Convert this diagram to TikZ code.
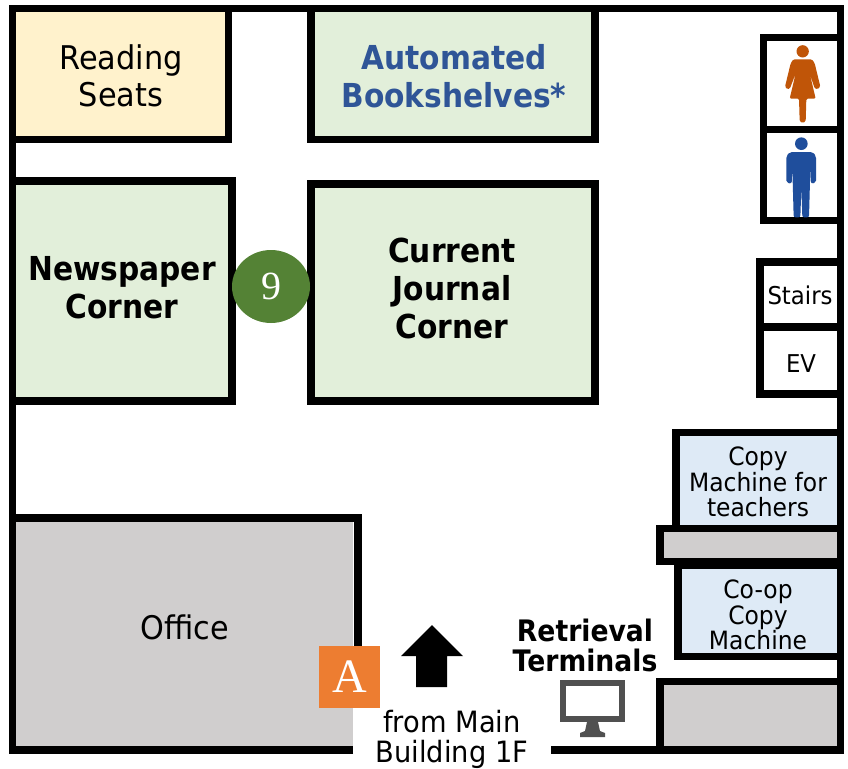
\documentclass[tikz,border=0pt]{standalone}
\usepackage{fontspec}
\usetikzlibrary{shapes.geometric}
\setmainfont[FakeStretch=0.93]{DejaVu Sans}
\newfontfamily\boldfam[FakeStretch=0.9]{DejaVu Sans Bold}
\newfontfamily\serfam{Liberation Serif}
\definecolor{wallc}{HTML}{000000}
\definecolor{yellowf}{HTML}{FFF2CC}
\definecolor{greenf}{HTML}{E2EFDA}
\definecolor{bluef}{HTML}{DEEAF6}
\definecolor{grayf}{HTML}{D0CECE}
\definecolor{autoc}{HTML}{2F5597}
\definecolor{pin}{HTML}{548235}
\definecolor{orangem}{HTML}{ED7D31}
\definecolor{womanc}{HTML}{C05508}
\definecolor{manc}{HTML}{1F4E9C}
\definecolor{monc}{HTML}{505050}
\tikzset{
  x=0.75pt,y=-0.75pt,
  wall/.style={draw=wallc,line width=5.4pt,line cap=butt,line join=miter},
  room/.style={wall,fill=#1},
  lab/.style={inner sep=0pt,align=center,text=black},
  lablarge/.style={lab,font=\fontsize{24.5}{27.75}\selectfont},
  labbold/.style={lab,font=\boldfam\fontsize{24.75}{28.5}\selectfont},
  labsmall/.style={lab,font=\fontsize{18.9}{19.2}\selectfont},
  labfrom/.style={lab,font=\fontsize{22}{22.5}\selectfont},
  labret/.style={lab,font=\boldfam\fontsize{22.2}{22.5}\selectfont},
}
\begin{document}
\begin{tikzpicture}
\useasboundingbox (0,0) rectangle (848,768);
% office fill and outer walls
\fill[grayf] (12,518) rectangle (353,748);
\draw[wall] (353,750) -- (12.5,750) -- (12.5,8.5) -- (840.5,8.5) -- (840.5,750) -- (551,750);
\draw[wall] (12.5,518) -- (358,518) -- (358,660);
% rooms
\draw[room=yellowf] (12.5,8.5) rectangle (228.5,139.5);
\draw[room=greenf] (311,8.5) rectangle (595,139.5);
\draw[room=greenf] (12.5,181) rectangle (232,401);
\draw[room=greenf] (311,184) rectangle (595,401);
\draw[room=white] (763.5,37.5) rectangle (840.5,129.5);
\draw[room=white] (763.5,129.5) rectangle (840.5,220.5);
\draw[room=white] (760,262) rectangle (840.5,327);
\draw[room=white] (760,327) rectangle (840.5,394);
\draw[room=bluef] (676,432.5) rectangle (840.5,528.5);
\draw[room=grayf] (660,528.5) rectangle (840.5,561.5);
\draw[room=bluef] (678,565) rectangle (840.5,656.5);
\draw[room=grayf] (660,681.5) rectangle (840.5,750);
% labels
\node[lablarge] (reading) at (121,75.5) {Reading\\Seats};
\node[labbold,text=autoc] (auto) at (454,76.5) {Automated\\Bookshelves*};
\node[labbold] (news) at (122,288) {Newspaper\\Corner};
\node[labbold] (journal) at (452,288) {Current\\Journal\\Corner};
\node[lab,font=\fontsize{18.4}{20}\selectfont] (stairs) at (800,295) {Stairs};
\node[lab,font=\fontsize{18.4}{20}\selectfont] (ev) at (801,364) {EV};
\node[labsmall] (copyt) at (758,482) {Copy\\Machine for\\teachers};
\node[labsmall] (coop) at (758,615) {Co-op\\Copy\\Machine};
\node[lab,font=\fontsize{24.4}{26}\selectfont] (office) at (185,627) {Office};
\node[labret] (retr) at (585,645.5) {Retrieval\\Terminals};
\node[labfrom] (from) at (452,739) {from Main\\Building 1F};
% markers
\node[ellipse,fill=pin,minimum width=58.5pt,minimum height=54.75pt,inner sep=0pt,text=white,font=\serfam\fontsize{30}{30}\selectfont] (nine) at (271,286.5) {\raisebox{-1.5pt}{9}};
\node[fill=orangem,minimum width=46pt,minimum height=46.5pt,inner sep=0pt,text=white,font=\serfam\fontsize{36}{36}\selectfont] (marka) at (349.5,677) {\raisebox{-1.5pt}{A}};
% arrow
\fill[black] (432,625) -- (463,656) -- (447,656) -- (447,687) -- (416,687) -- (416,656) -- (401,656) -- cycle;
% monitor
\draw[draw=monc,line width=4.2pt] (563,683) rectangle (622,719);
\fill[monc] (587,722) -- (598,722) -- (600,731) -- (605,733) -- (605,737) -- (580,737) -- (580,733) -- (585,731) -- cycle;
% woman and man
\begin{scope}[shift={(740,20)},x=0.25pt,y=-0.25pt]
\fill[womanc] (188,94) circle[radius=18.5];
\fill[womanc,rounded corners=1pt] (160,118) -- (216,118) -- (224,130) -- (241,200) -- (232,208) -- (224,205) -- (209,160) -- (227,236) -- (199,236) -- (197,304) -- (188,309) -- (179,304) -- (177,236) -- (149,236) -- (167,160) -- (150,205) -- (142,208) -- (135,200) -- (152,130) -- cycle;
\fill[manc] (184,371) circle[radius=19];
\fill[manc,rounded corners=1.5pt] (150,396) -- (218,396) -- (228,408) -- (228,488) -- (213,491) -- (211,445) -- (207,592) -- (187,592) -- (184,505) -- (181,592) -- (161,592) -- (157,445) -- (155,491) -- (139,488) -- (139,408) -- cycle;
\end{scope}
\end{tikzpicture}
\end{document}
